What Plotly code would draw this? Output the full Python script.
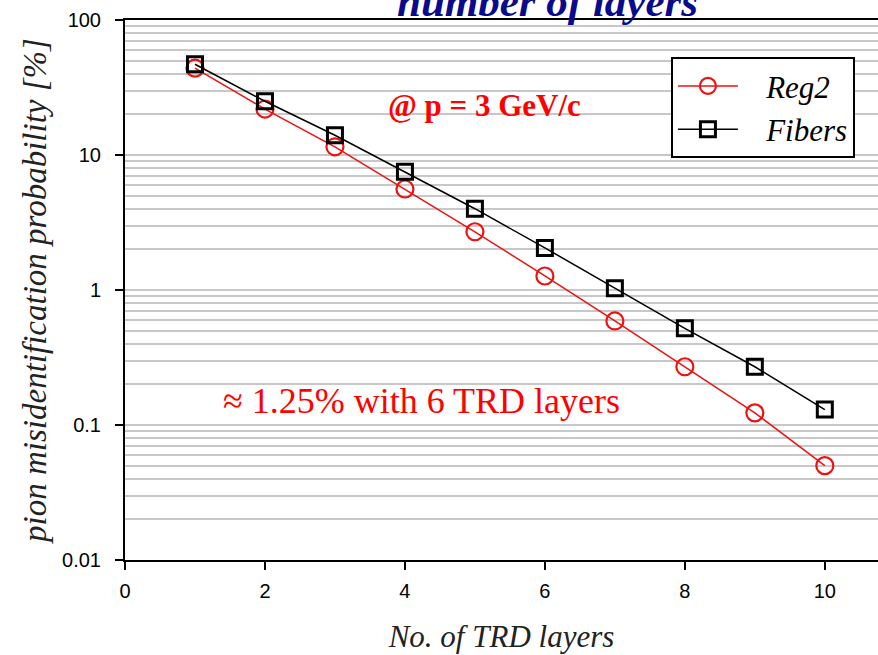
import plotly.graph_objects as go

layers = [1, 2, 3, 4, 5, 6, 7, 8, 9, 10]
reg2 = [44, 21.9, 11.5, 5.6, 2.7, 1.27, 0.59, 0.27, 0.123, 0.05]
fibers = [47, 25, 14, 7.5, 4.0, 2.05, 1.03, 0.52, 0.27, 0.13]
x_ticks = [0, 2, 4, 6, 8, 10]
y_ticks = [0.01, 0.1, 1, 10, 100]
y_tick_labels = ["0.01", "0.1", "1", "10", "100"]

pad = "\u00a0\u00a0\u00a0"

fig = go.Figure()
fig.add_trace(go.Scatter(
    x=layers, y=reg2, name=pad + "Reg2", mode="lines+markers",
    line=dict(color="#ee1111", width=1.5),
    marker=dict(symbol="circle-open", size=17, color="#ee1111", line=dict(width=2.2)),
))
fig.add_trace(go.Scatter(
    x=layers, y=fibers, name=pad + "Fibers", mode="lines+markers",
    line=dict(color="black", width=1.5),
    marker=dict(symbol="square-open", size=15, color="black", line=dict(width=3)),
))

fig.update_layout(
    width=878, height=655,
    margin=dict(l=125, r=0, t=20, b=95),
    plot_bgcolor="white", paper_bgcolor="white",
    showlegend=True,
    legend=dict(
        x=0.725, y=0.931, xanchor="left", yanchor="top",
        bgcolor="white", bordercolor="black", borderwidth=2,
        font=dict(family="Liberation Serif", size=31, color="black", style="italic"),
        itemwidth=60, tracegroupgap=2,
    ),
    xaxis=dict(
        range=[0, 10.76], tickvals=x_ticks, showgrid=False,
        showline=True, linecolor="black", linewidth=2, mirror=True,
        ticks="outside", ticklen=8, tickcolor="black", tickwidth=2,
        ticklabelstandoff=4,
        tickfont=dict(family="Liberation Sans", size=20, color="black"),
        zeroline=False,
        title=dict(text="No. of TRD layers", standoff=24,
                   font=dict(family="Liberation Serif", size=31, color="#222", style="italic")),
    ),
    yaxis=dict(
        type="log", range=[-2, 2], tickvals=y_ticks, ticktext=y_tick_labels,
        showline=True, linecolor="black", linewidth=2,
        ticks="outside", ticklen=8, tickcolor="black", tickwidth=2,
        ticklabelstandoff=10,
        tickfont=dict(family="Liberation Sans", size=20, color="black"),
        showgrid=True, gridcolor="#c8c8c8", gridwidth=1.5,
        minor=dict(dtick="D1", showgrid=True, gridcolor="#c8c8c8", gridwidth=1.5, ticks=""),
        zeroline=False,
        title=dict(text="pion misidentification probability [%]", standoff=6,
                   font=dict(family="Liberation Serif", size=33, color="#222", style="italic")),
    ),
)

fig.add_annotation(
    xref="paper", yref="paper", x=(547 - 125) / 753, y=(560 - 27) / 540,
    xanchor="center", yanchor="bottom",
    text="<b><i>number of layers</i></b>", showarrow=False,
    font=dict(family="Liberation Serif", size=43, color="#0a0a8c"),
)
fig.add_annotation(
    x=5.14, y=2 - (105 - 20) / 135, xref="x", yref="y",
    text="<b>@ p = 3 GeV/c</b>", showarrow=False,
    font=dict(family="Liberation Serif", size=31, color="#ff0000"),
)
fig.add_annotation(
    x=4.23, y=2 - (401 - 20) / 135, xref="x", yref="y",
    text="≈ 1.25% with 6 TRD layers", showarrow=False,
    font=dict(family="Liberation Serif", size=36, color="#ff0000"),
)

fig.write_html("out.html")
